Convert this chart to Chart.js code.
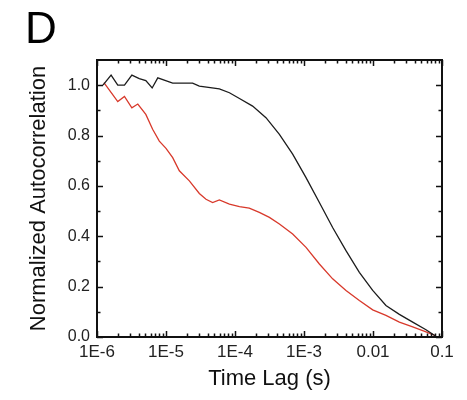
<!DOCTYPE html>
<html>
<head>
<meta charset="utf-8">
<script src="https://cdn.jsdelivr.net/npm/chart.js@4"></script>
<style>
  html, body { margin: 0; padding: 0; background: #fff; }
  canvas { display: block; }
</style>
</head>
<body>
<canvas id="chartAcf" width="467" height="400"></canvas>
<script>
'use strict'

// lag times (s) and normalized autocorrelation
var lagBlack = [1.22e-6, 1.6e-6, 2.0e-6, 2.5e-6, 3.2e-6, 4.1e-6, 5.1e-6, 6.3e-6, 7.6e-6, 1.25e-5,
    2.43e-5, 3.04e-5, 5.93e-5, 8.3e-5, 1.16e-4, 1.8e-4, 2.81e-4, 4.4e-4, 6.85e-4, 1.07e-3,
    1.67e-3, 2.6e-3, 4.06e-3, 6.34e-3, 9.9e-3, 0.0154, 0.0241, 0.0376, 0.0586, 0.0774, 0.083];
var acfBlack = [1.0, 1.04, 1.0, 1.0, 1.04, 1.026, 1.018, 0.989, 1.029, 1.008,
    1.008, 0.996, 0.985, 0.970, 0.947, 0.917, 0.871, 0.805, 0.726, 0.633,
    0.534, 0.435, 0.343, 0.257, 0.185, 0.125, 0.090, 0.059, 0.029, 0.007, 0.0];

var lagRed = [1.26e-6, 2.0e-6, 2.5e-6, 3.2e-6, 3.9e-6, 5.1e-6, 6.4e-6, 8.0e-6, 1.0e-5, 1.25e-5,
    1.56e-5, 2.18e-5, 3.04e-5, 3.8e-5, 4.74e-5, 5.93e-5, 8.3e-5, 1.16e-4, 1.61e-4, 2.25e-4,
    3.15e-4, 4.4e-4, 6.85e-4, 1.07e-3, 1.67e-3, 2.6e-3, 4.06e-3, 6.34e-3, 9.9e-3, 0.0154,
    0.0241, 0.0376, 0.0586, 0.0774, 0.083];
var acfRed = [1.01, 0.935, 0.955, 0.91, 0.925, 0.884, 0.825, 0.778, 0.749, 0.712,
    0.660, 0.620, 0.570, 0.547, 0.534, 0.544, 0.528, 0.518, 0.512, 0.495,
    0.475, 0.449, 0.409, 0.356, 0.290, 0.231, 0.185, 0.145, 0.108, 0.086,
    0.059, 0.040, 0.020, 0.007, 0.0];

var xMajor = [1e-6, 1e-5, 1e-4, 1e-3, 0.01, 0.1];
var xTickLabels = ['1E-6', '1E-5', '1E-4', '1E-3', '0.01', '0.1'];
var yTicks = [0.0, 0.1, 0.2, 0.3, 0.4, 0.5, 0.6, 0.7, 0.8, 0.9, 1.0];
var yTickLabels = ['0.0', '', '0.2', '', '0.4', '', '0.6', '', '0.8', '', '1.0'];

var FONT = "'Liberation Sans', Arial, sans-serif";

function toPoints(xs, ys) {
    return xs.map(function (x, i) { return { x: x, y: ys[i] }; });
}

function xLabelFor(v) {
    for (var i = 0; i < xMajor.length; i++) {
        if (Math.abs(Math.log10(v) - Math.log10(xMajor[i])) < 1e-6) return xTickLabels[i];
    }
    return '';
}

// frame, inward ticks on all four sides, panel letter
var framePlugin = {
    id: 'frame',
    afterDraw: function (chart) {
        var ctx = chart.ctx;
        var a = chart.chartArea;
        var xs = chart.scales.x, ys = chart.scales.y;
        ctx.save();
        ctx.strokeStyle = '#111';
        ctx.lineWidth = 1.5;
        ctx.beginPath();
        xs.ticks.forEach(function (t) {
            var px = Math.round(xs.getPixelForValue(t.value)) + 0.5;
            var len = xLabelFor(t.value) ? 6 : 3.5;
            ctx.moveTo(px, a.bottom); ctx.lineTo(px, a.bottom - len);
            ctx.moveTo(px, a.top); ctx.lineTo(px, a.top + len);
        });
        ys.ticks.forEach(function (t, i) {
            var py = Math.round(ys.getPixelForValue(t.value)) + 0.5;
            var len = yTickLabels[i] ? 6 : 3.5;
            ctx.moveTo(a.left, py); ctx.lineTo(a.left + len, py);
            ctx.moveTo(a.right, py); ctx.lineTo(a.right - len, py);
        });
        ctx.stroke();
        ctx.lineWidth = 2;
        ctx.strokeRect(a.left, a.top, a.right - a.left, a.bottom - a.top);

        ctx.fillStyle = '#000';
        ctx.font = '44px ' + FONT;
        ctx.textBaseline = 'alphabetic';
        ctx.fillText('D', 25, 43);
        ctx.restore();
    }
};

var ctx = document.getElementById('chartAcf');
var acfChart = new Chart(ctx, {
    type: 'line',
    data: {
        datasets: [
            {
                label: 'black',
                data: toPoints(lagBlack, acfBlack),
                borderColor: '#1c1c1c',
                borderWidth: 1.3,
                pointRadius: 0,
                tension: 0,
                fill: false
            },
            {
                label: 'red',
                data: toPoints(lagRed, acfRed),
                borderColor: '#d8392b',
                borderWidth: 1.3,
                pointRadius: 0,
                tension: 0,
                fill: false
            }
        ]
    },
    options: {
        responsive: false,
        devicePixelRatio: 1,
        animation: false,
        layout: { padding: { left: 0, top: 60, right: 25, bottom: 0 } },
        plugins: {
            legend: { display: false },
            tooltip: { enabled: false }
        },
        scales: {
            x: {
                type: 'logarithmic',
                min: 1e-6,
                max: 0.1,
                grid: { display: false, drawTicks: false },
                border: { display: false },
                afterBuildTicks: function (scale) {
                    var ticks = [];
                    xMajor.forEach(function (m, i) {
                        ticks.push({ value: m });
                        if (i < xMajor.length - 1) {
                            for (var k = 2; k <= 9; k++) ticks.push({ value: m * k });
                        }
                    });
                    scale.ticks = ticks;
                },
                afterFit: function (scale) { scale.height = 63; },
                ticks: {
                    autoSkip: false,
                    maxRotation: 0,
                    minRotation: 0,
                    padding: 5,
                    color: '#222',
                    font: { family: FONT, size: 17 },
                    callback: function (v) { return xLabelFor(v); }
                },
                title: {
                    display: true,
                    text: 'Time Lag (s)',
                    color: '#111',
                    font: { family: FONT, size: 22 },
                    padding: { top: 0, bottom: 8 }
                }
            },
            y: {
                min: 0,
                max: 1.1,
                grid: { display: false, drawTicks: false },
                border: { display: false },
                afterBuildTicks: function (scale) {
                    scale.ticks = yTicks.map(function (v) { return { value: v }; });
                },
                afterFit: function (scale) { scale.width = 97; },
                ticks: {
                    padding: 7,
                    color: '#222',
                    font: { family: FONT, size: 16 },
                    callback: function (v, i) { return yTickLabels[i]; }
                },
                title: {
                    display: true,
                    text: 'Normalized Autocorrelation',
                    color: '#111',
                    font: { family: FONT, size: 22 },
                    padding: { top: 26, bottom: 0 }
                }
            }
        }
    },
    plugins: [framePlugin]
});
</script>
</body>
</html>
